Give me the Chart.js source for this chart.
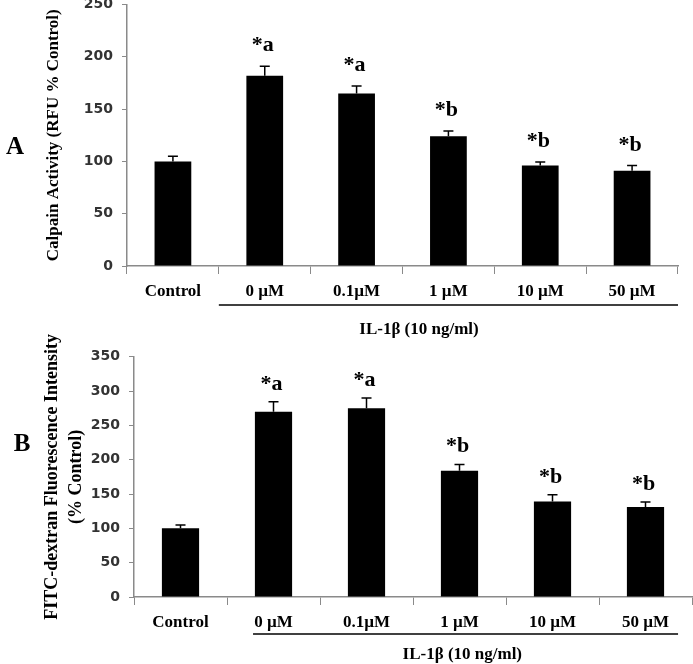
<!DOCTYPE html>
<html>
<head>
<meta charset="utf-8">
<script src="https://cdn.jsdelivr.net/npm/chart.js@4.4.1/dist/chart.umd.min.js"></script>
<style>
    html, body { margin: 0; padding: 0; background: #fff; }
    #wrap { position: relative; width: 693px; height: 664px; overflow: hidden; }
    .panel { position: absolute; left: 0; width: 693px; }
</style>
</head>
<body>
<div id="wrap">
    <div class="panel" style="top:0;height:345px"><canvas id="chartA"></canvas></div>
    <div class="panel" style="top:320px;height:344px"><canvas id="chartB"></canvas></div>
</div>
<script>
// ---------- Data ----------
var categories = ["Control", "0 µM", "0.1µM", "1 µM", "10 µM", "50 µM"];
var significance = ["", "*a", "*a", "*b", "*b", "*b"];
var groupLabel = "IL-1β (10 ng/ml)";

var calpainValues = [100, 182, 165, 124, 96, 91];
var calpainErrors = [5, 9, 7, 5, 3.5, 5];
var calpainTicks = [0, 50, 100, 150, 200, 250];

var fitcValues = [100, 270, 275, 184, 139, 131];
var fitcErrors = [5, 14.5, 15, 9, 10, 7.5];
var fitcTicks = [0, 50, 100, 150, 200, 250, 300, 350];

(function () {
    "use strict";

    var AXIS_GREY = "#8a8a8a";
    var SERIF = "'Liberation Serif', 'Times New Roman', serif";

    // draws error caps, "*a"/"*b" marks, the IL-1β bracket and the panel letter
    function decorPlugin(p) {
        return {
            id: "decor" + p.letter,
            afterDatasetsDraw: function (chart) {
                var ctx = chart.ctx;
                var xs = chart.scales.x, ys = chart.scales.y;
                var area = chart.chartArea;
                var meta = chart.getDatasetMeta(0);
                ctx.save();
                ctx.strokeStyle = "#000";
                ctx.fillStyle = "#000";
                ctx.lineWidth = 1.5;
                meta.data.forEach(function (bar, i) {
                    var top = ys.getPixelForValue(p.values[i] + p.errors[i]);
                    ctx.beginPath();
                    ctx.moveTo(bar.x, bar.y);
                    ctx.lineTo(bar.x, top);
                    ctx.moveTo(bar.x - 5, top);
                    ctx.lineTo(bar.x + 5, top);
                    ctx.stroke();
                    if (significance[i]) {
                        ctx.font = "bold 22px " + SERIF;
                        ctx.textAlign = "center";
                        ctx.textBaseline = "alphabetic";
                        ctx.fillText(significance[i], bar.x - 2, top - p.markGap);
                    }
                });

                // bracket line under the treated groups
                var lineY = area.bottom + p.lineDrop;
                ctx.beginPath();
                ctx.lineWidth = 1.5;
                ctx.moveTo(xs.getPixelForValue(p.lineFrom), lineY);
                ctx.lineTo(xs.getPixelForValue(p.lineTo), lineY);
                ctx.stroke();

                ctx.font = "bold 17px " + SERIF;
                ctx.textAlign = "center";
                ctx.textBaseline = "middle";
                ctx.fillText(groupLabel, xs.getPixelForValue(p.labelAt), area.bottom + p.labelDrop);

                ctx.font = "bold 25px " + SERIF;
                ctx.fillText(p.letter, p.letterX, p.letterY);
                ctx.restore();
            }
        };
    }

    function makeChart(id, p) {
        var ctx = document.getElementById(id).getContext("2d");
        return new Chart(ctx, {
            type: "bar",
            data: {
                labels: categories,
                datasets: [{
                    data: p.values,
                    backgroundColor: "#000",
                    borderWidth: 0,
                    categoryPercentage: 1,
                    barPercentage: 0.4
                }]
            },
            options: {
                responsive: true,
                maintainAspectRatio: false,
                animation: false,
                layout: { padding: { left: 0, right: p.padRight, top: p.padTop, bottom: 0 } },
                plugins: { legend: { display: false }, tooltip: { enabled: false } },
                scales: {
                    x: {
                        grid: { display: true, drawOnChartArea: false, color: AXIS_GREY, tickLength: 8, offset: true },
                        border: { display: true, color: AXIS_GREY, width: 1.5 },
                        ticks: { color: "#000", padding: 7, maxRotation: 0, font: { family: SERIF, size: 17, weight: "bold" } },
                        afterFit: function (s) {
                            s.height = p.xHeight;
                            s.paddingLeft = 0; s.paddingRight = 0;
                        }
                    },
                    y: {
                        min: p.ticks[0],
                        max: p.ticks[p.ticks.length - 1],
                        afterBuildTicks: function (s) {
                            s.ticks = p.ticks.map(function (v) { return { value: v }; });
                        },
                        grid: { display: true, drawOnChartArea: false, color: AXIS_GREY, tickLength: 5 },
                        border: { display: true, color: AXIS_GREY, width: 1.5 },
                        ticks: { color: "#333", padding: 9, font: { family: "'DejaVu Sans', sans-serif", size: 14, weight: "bold" } },
                        title: {
                            display: true,
                            text: p.title,
                            color: "#000",
                            padding: { top: p.titlePad, bottom: 0 },
                            font: { family: SERIF, size: p.titleSize, weight: "bold", lineHeight: p.titleLine }
                        },
                        afterFit: function (s) {
                            s.width = p.yWidth;
                            s.paddingTop = 0; s.paddingBottom = 0;
                        }
                    }
                }
            },
            plugins: [decorPlugin(p)]
        });
    }

    makeChart("chartA", {
        letter: "A", letterX: 15, letterY: 148,
        values: calpainValues, errors: calpainErrors, ticks: calpainTicks,
        title: "Calpain Activity (RFU % Control)", titleSize: 17, titleLine: 1.4, titlePad: 42,
        yWidth: 127, xHeight: 79, padRight: 15, padTop: 4.5,
        markGap: 15, lineFrom: 0.5, lineTo: 5.5, lineDrop: 39, labelAt: 2.68, labelDrop: 64
    });

    makeChart("chartB", {
        letter: "B", letterX: 22, letterY: 125,
        values: fitcValues, errors: fitcErrors, ticks: fitcTicks,
        title: ["FITC-dextran Fluorescence Intensity", "(% Control)"], titleSize: 18, titleLine: 1.33, titlePad: 40,
        yWidth: 134, xHeight: 67, padRight: 1, padTop: 36.7,
        markGap: 12, lineFrom: 0.78, lineTo: 5.35, lineDrop: 37, labelAt: 3.03, labelDrop: 58
    });
})();
</script>
</body>
</html>
